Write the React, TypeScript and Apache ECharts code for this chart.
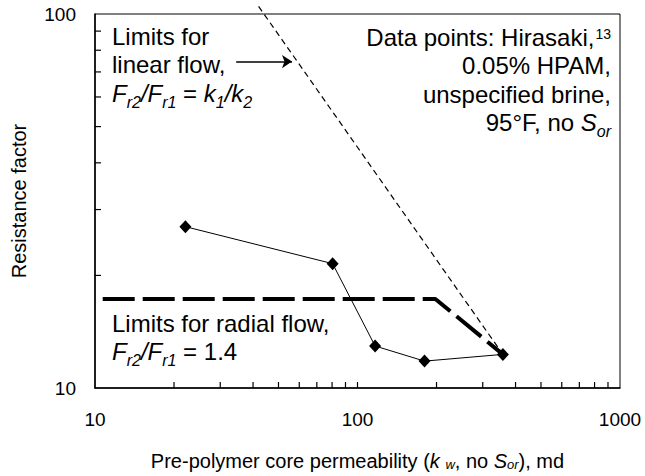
import React, { useEffect, useRef } from "react";
import * as echarts from "echarts";

// ---- data ----
const permeability = [22.1, 80.4, 116.7, 180, 358];
const resistanceFactor = [27.0, 21.5, 12.95, 11.8, 12.3];

const linearLimitK = [42, 358];
const linearLimitF = [104.8, 12.3];

const radialLimitK = [10.7, 198, 358];
const radialLimitF = [17.3, 17.3, 12.3];

const arrowK = [34.5, 56.3];
const arrowF = [74.6, 74.6];

const xMin = 10;
const xMax = 1000;
const yMin = 10;
const yMax = 100;
const xMinorTicks = [20, 30, 40, 50, 60, 70, 80, 90, 100, 200, 300, 400, 500, 600, 700, 800, 900];
const yMinorTicks = [20, 30, 40, 50, 60, 70, 80, 90];

const FONT = "'Liberation Sans', Arial, Helvetica, sans-serif";

const annRich = {
  n: { fontFamily: FONT, fontSize: 24, lineHeight: 28.5, fill: "#000", color: "#000" },
  i: { fontFamily: FONT, fontSize: 24, fontStyle: "italic", lineHeight: 28.5, fill: "#000", color: "#000" },
  s: { fontFamily: FONT, fontSize: 16, fontStyle: "italic", lineHeight: 28.5, padding: [18, 0, 0, 0], fill: "#000", color: "#000" },
  sp: { fontFamily: FONT, fontSize: 14, lineHeight: 28.5, padding: [0, 0, 6, 1], fill: "#000", color: "#000" },
};

const nameRich = {
  n: { fontFamily: FONT, fontSize: 20, lineHeight: 24, color: "#000" },
  i: { fontFamily: FONT, fontSize: 20, fontStyle: "italic", lineHeight: 24, color: "#000" },
  s: { fontFamily: FONT, fontSize: 13, fontStyle: "italic", lineHeight: 24, padding: [7, 0, 0, 0], color: "#000" },
};

export default function App() {
  const ref = useRef<HTMLDivElement>(null);

  useEffect(() => {
    if (!ref.current) return;
    const chart = echarts.init(ref.current, null, { renderer: "svg" });

    const option: any = {
      animation: false,
      backgroundColor: "#fff",
      grid: {
        left: 95,
        top: 14,
        right: 25,
        bottom: 86.5,
        show: true,
        borderColor: "#000",
        borderWidth: 1,
        backgroundColor: "transparent",
      },
      xAxis: {
        type: "log",
        logBase: 10,
        min: xMin,
        max: xMax,
        axisLine: { show: true, lineStyle: { color: "#000", width: 1.5 } },
        axisTick: { show: false },
        axisLabel: {
          color: "#000",
          fontSize: 19,
          fontFamily: FONT,
          margin: 22,
          formatter: (v: number) => String(v),
        },
        splitLine: { show: false },
        name: "{n|Pre-polymer core permeability (}{i|k}{n| }{s|w}{n|, no }{i|S}{s|or}{n|), md}",
        nameLocation: "middle",
        nameGap: 61,
        nameTextStyle: { fontFamily: FONT, fontSize: 20, color: "#000", rich: nameRich },
      },
      yAxis: {
        type: "log",
        logBase: 10,
        min: yMin,
        max: yMax,
        axisLine: { show: true, lineStyle: { color: "#000", width: 1.5 } },
        axisTick: { show: false },
        axisLabel: {
          color: "#000",
          fontSize: 19,
          fontFamily: FONT,
          margin: 19,
          formatter: (v: number) => String(v),
        },
        splitLine: { show: false },
        name: "Resistance factor",
        nameLocation: "middle",
        nameGap: 66,
        nameTextStyle: { fontFamily: FONT, fontSize: 20, color: "#000" },
      },
      series: [
        {
          type: "custom",
          coordinateSystem: "cartesian2d",
          silent: true,
          clip: false,
          z: 10,
          data: xMinorTicks.map((v) => [v, yMin]),
          encode: { x: 0, y: 1 },
          renderItem: (params: any, api: any) => {
            const pt = api.coord([xMinorTicks[params.dataIndex], yMin]);
            return {
              type: "line",
              z2: 10,
              shape: { x1: pt[0], y1: pt[1], x2: pt[0], y2: pt[1] - 6 },
              style: { stroke: "#000", lineWidth: 1.2, fill: null },
            };
          },
        },
        {
          type: "custom",
          coordinateSystem: "cartesian2d",
          silent: true,
          clip: false,
          z: 10,
          data: yMinorTicks.map((v) => [xMin, v]),
          encode: { x: 0, y: 1 },
          renderItem: (params: any, api: any) => {
            const pt = api.coord([xMin, yMinorTicks[params.dataIndex]]);
            return {
              type: "line",
              z2: 10,
              shape: { x1: pt[0], y1: pt[1], x2: pt[0] + 6, y2: pt[1] },
              style: { stroke: "#000", lineWidth: 1.2, fill: null },
            };
          },
        },
        {
          name: "Linear limit",
          type: "line",
          clip: false,
          silent: true,
          showSymbol: false,
          symbol: "none",
          data: linearLimitK.map((k, i) => [k, linearLimitF[i]]),
          lineStyle: { color: "#000", width: 1.2, type: [6, 4] },
          markLine: {
            silent: true,
            symbol: ["none", "arrow"],
            symbolSize: 10,
            label: { show: false },
            lineStyle: { color: "#000", width: 1.5, type: "solid" },
            emphasis: { disabled: true },
            data: [
              [
                { coord: [arrowK[0], arrowF[0]] },
                { coord: [arrowK[1], arrowF[1]] },
              ],
            ],
          },
        },
        {
          name: "Radial limit",
          type: "line",
          silent: true,
          showSymbol: false,
          symbol: "none",
          data: radialLimitK.map((k, i) => [k, radialLimitF[i]]),
          lineStyle: { color: "#000", width: 4, type: [32, 8], cap: "butt" },
        },
        {
          name: "Hirasaki",
          type: "line",
          silent: true,
          symbol: "diamond",
          symbolSize: [12, 13],
          data: permeability.map((k, i) => [k, resistanceFactor[i]]),
          lineStyle: { color: "#000", width: 1 },
          itemStyle: { color: "#000" },
          z: 5,
        },
      ],
      graphic: [
        {
          type: "text",
          x: 112,
          y: 22,
          silent: true,
          style: {
            text: "{n|Limits for}\n{n|linear flow,}\n{i|F}{s|r2}{i|/F}{s|r1}{n| = }{i|k}{s|1}{i|/k}{s|2}",
            rich: annRich,
            font: `24px ${FONT}`,
            fill: "#000",
            align: "left",
            verticalAlign: "top",
          },
        },
        {
          type: "text",
          x: 611,
          y: 23,
          silent: true,
          style: {
            text: "{n|Data points: Hirasaki,}{sp|13}\n{n|0.05% HPAM,}\n{n|unspecified brine,}\n{n|95°F, no }{i|S}{s|or}",
            rich: annRich,
            font: `24px ${FONT}`,
            fill: "#000",
            align: "right",
            verticalAlign: "top",
          },
        },
        {
          type: "text",
          x: 112,
          y: 309,
          silent: true,
          style: {
            text: "{n|Limits for radial flow,}\n{i|F}{s|r2}{i|/F}{s|r1}{n| = 1.4}",
            rich: annRich,
            font: `24px ${FONT}`,
            fill: "#000",
            align: "left",
            verticalAlign: "top",
          },
        },
      ],
    };

    chart.setOption(option);
    return () => chart.dispose();
  }, []);

  return (
    <div
      ref={ref}
      style={{ position: "fixed", left: 0, top: 0, width: 645, height: 476, background: "#fff" }}
    />
  );
}
